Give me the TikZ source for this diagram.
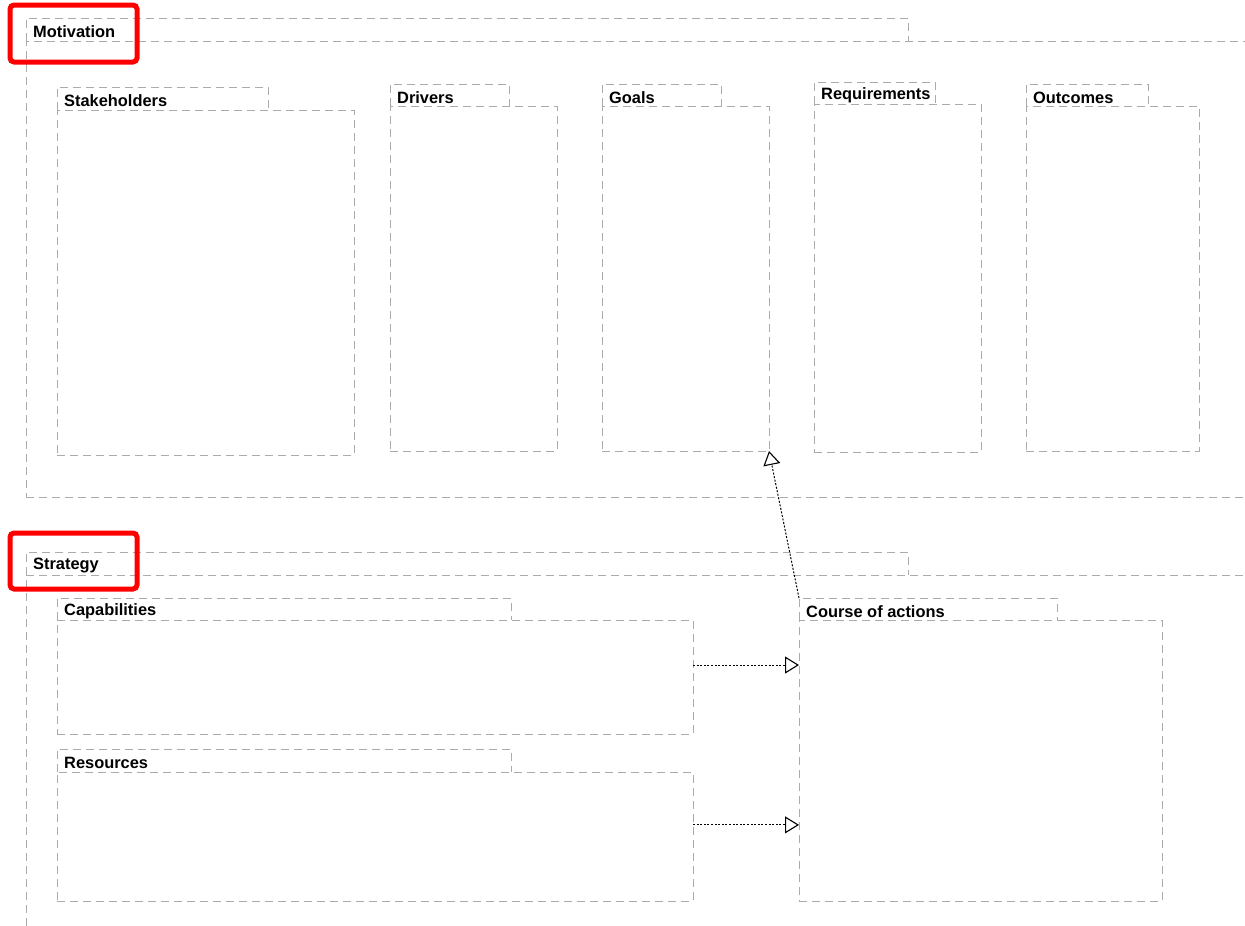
\documentclass[tikz,border=0pt]{standalone}
\usepackage{fontspec}
\setmainfont{Liberation Sans}
\usetikzlibrary{arrows.meta,fit,calc}
\definecolor{pkgline}{HTML}{ABABAB}
\definecolor{mark}{HTML}{FF0000}
\begin{document}
\begin{tikzpicture}[x=1pt,y=-1pt,
  pkgline/.style={draw=pkgline, line width=1pt, dash pattern=on 8pt off 5pt},
  pkgbox/.style={pkgline, rectangle, inner sep=0pt, outer sep=0pt},
  pkgtab/.style={rectangle, inner sep=0pt, outer sep=0pt},
  pkglabel/.style={anchor=west, inner sep=0pt, xshift=7pt, yshift=-2.5pt,
                   font=\fontsize{16.4}{18}\selectfont\bfseries},
  dep/.style={draw=black, line width=1pt, dash pattern=on 2pt off 1.6pt,
              -{Triangle[open, length=14pt, width=17pt, fill=white, line width=1.1pt]}},
  highlight/.style={draw=mark, line width=5pt, rounded corners=4pt}]
\useasboundingbox (0,0) rectangle (1245,926);

% a package tab: left, top and right sides only (the body supplies the base)
\newcommand\tabsides[1]{\draw[pkgline] (#1.south west) |- (#1.north east) -- (#1.south east);}

% Motivation package
\node[pkgbox, fit={(26,41)(1262,497)}] (motBody) {};
\node[pkgtab, fit={(26,18)(908,41)}] (motTab) {};
\tabsides{motTab}
\node[pkglabel] (motLabel) at (motTab.west) {Motivation};

\node[pkgbox, fit={(57,110)(354,455)}] (stakeBody) {};
\node[pkgtab, fit={(57,87)(268,110)}] (stakeTab) {};
\tabsides{stakeTab}
\node[pkglabel] (stakeLabel) at (stakeTab.west) {Stakeholders};

\node[pkgbox, fit={(390,106)(557,451)}] (drvBody) {};
\node[pkgtab, fit={(390,84)(509,106)}] (drvTab) {};
\tabsides{drvTab}
\node[pkglabel] (drvLabel) at (drvTab.west) {Drivers};

\node[pkgbox, fit={(602,106)(769,451)}] (goalBody) {};
\node[pkgtab, fit={(602,84)(721,106)}] (goalTab) {};
\tabsides{goalTab}
\node[pkglabel] (goalLabel) at (goalTab.west) {Goals};

\node[pkgbox, fit={(814,104)(981,452)}] (reqBody) {};
\node[pkgtab, fit={(814,82)(935,104)}] (reqTab) {};
\tabsides{reqTab}
\node[pkglabel] (reqLabel) at (reqTab.west) {Requirements};

\node[pkgbox, fit={(1026,106)(1199,451)}] (outBody) {};
\node[pkgtab, fit={(1026,84)(1148,106)}] (outTab) {};
\tabsides{outTab}
\node[pkglabel] (outLabel) at (outTab.west) {Outcomes};

% Strategy package
\node[pkgbox, fit={(26,575)(1262,945)}] (strBody) {};
\node[pkgtab, fit={(26,552)(908,575)}] (strTab) {};
\tabsides{strTab}
\node[pkglabel] (strLabel) at (strTab.west) {Strategy};

\node[pkgbox, fit={(57,620)(693,734)}] (capBody) {};
\node[pkgtab, fit={(57,598)(511,620)}] (capTab) {};
\tabsides{capTab}
\node[pkglabel] (capLabel) at (capTab.west) {Capabilities};

\node[pkgbox, fit={(57,772)(693,901)}] (resBody) {};
\node[pkgtab, fit={(57,749)(511,772)}] (resTab) {};
\tabsides{resTab}
\node[pkglabel] (resLabel) at (resTab.west) {Resources};

\node[pkgbox, fit={(799,620)(1162,901)}] (coaBody) {};
\node[pkgtab, fit={(799,598)(1057,620)}] (coaTab) {};
\tabsides{coaTab}
\node[pkglabel] (coaLabel) at (coaTab.west) {Course of actions};

% Dependencies
\coordinate (capOut) at ($(capBody.north east)!0.395!(capBody.south east)$);
\coordinate (resOut) at ($(resBody.north east)!0.41!(resBody.south east)$);
\draw[dep] (capOut) -- (capOut -| coaBody.west);
\draw[dep] (resOut) -- (resOut -| coaBody.west);
\draw[dep] (coaTab.north west) -- (goalBody.south east);

% Highlight frames around the package names
\draw[highlight] (10,5) rectangle (137,62);
\draw[highlight] (10,533) rectangle (137,589);
\end{tikzpicture}
\end{document}
